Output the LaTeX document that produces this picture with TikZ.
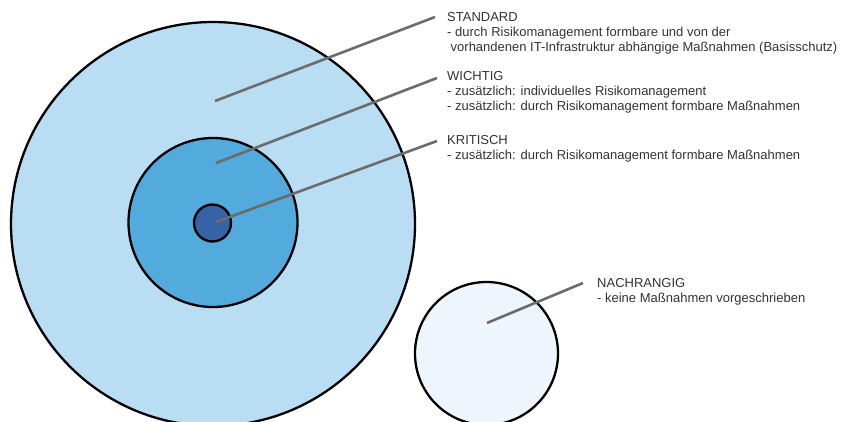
\documentclass[tikz,border=0pt]{standalone}
\usepackage{fontspec}
\setmainfont{Liberation Sans}
\begin{document}
\begin{tikzpicture}[x=1pt,y=-1pt,
  ring/.style={circle,draw=black,line width=2.3pt,inner sep=0pt},
  lead/.style={draw=gray!85!black,line width=2.6pt},
  lbl/.style={anchor=north west,inner sep=0pt,align=left,text=black!80,
    font=\fontsize{13}{14.8}\selectfont}]
\useasboundingbox (0,0) rectangle (844,421);
\definecolor{cStd}{HTML}{B9DDF2}
\definecolor{cWich}{HTML}{52AADD}
\definecolor{cKrit}{HTML}{3563A6}
\definecolor{cNach}{HTML}{EEF5FC}
\node[ring,fill=cStd,minimum size=404pt] (std) at (213,224) {};
\node[ring,fill=cWich,minimum size=169pt] (wich) at (213,222.5) {};
\node[ring,fill=cKrit,minimum size=37pt] (krit) at (212.5,223) {};
\node[ring,fill=cNach,minimum size=143pt] (nach) at (486.5,353.5) {};
% labels
\node[lbl] (tStd) at (447,12.5) {STANDARD\\- durch Risikomanagement formbare und von der\\\hspace*{3.5pt}vorhandenen IT-Infrastruktur abhängige Maßnahmen (Basisschutz)};
\node[lbl] (tWich) at (447,71.5) {WICHTIG\\- zusätzlich: individuelles Risikomanagement\\- zusätzlich: durch Risikomanagement formbare Maßnahmen};
\node[lbl] (tKrit) at (447,135.5) {KRITISCH\\- zusätzlich: durch Risikomanagement formbare Maßnahmen};
\node[lbl] (tNach) at (597,278.5) {NACHRANGIG\\- keine Maßnahmen vorgeschrieben};
% leader lines
\coordinate (aStd) at (215,101);
\coordinate (bStd) at (435,17);
\coordinate (aWich) at (216,163);
\coordinate (bWich) at (437,78);
\coordinate (aKrit) at (216,222);
\coordinate (bKrit) at (437,141);
\coordinate (aNach) at (487,323);
\coordinate (bNach) at (583,283);
\draw[lead] (aStd) -- (bStd);
\draw[lead] (aWich) -- (bWich);
\draw[lead] (aKrit) -- (bKrit);
\draw[lead] (aNach) -- (bNach);
\end{tikzpicture}
\end{document}
